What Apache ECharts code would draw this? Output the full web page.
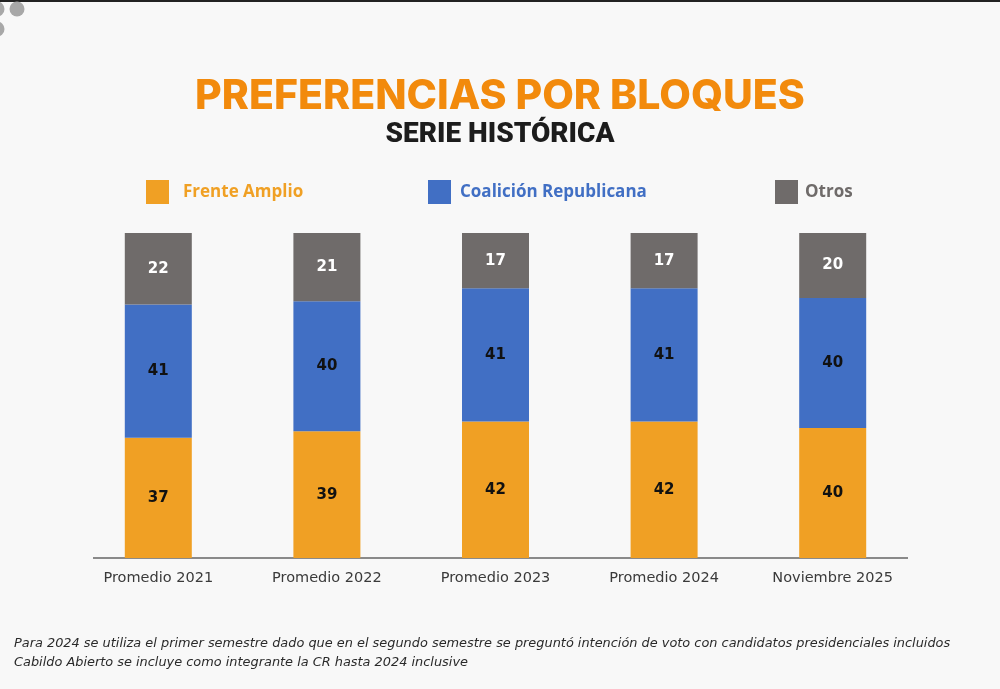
<!DOCTYPE html>
<html>
<head>
<meta charset="utf-8">
<script src="https://cdn.jsdelivr.net/npm/echarts@6/dist/echarts.min.js"></script>
<style>
  html, body { margin: 0; padding: 0; background: #f8f8f8; }
  #chart { width: 1000px; height: 689px; }
</style>
</head>
<body>
<div id="chart"></div>
<script>
var categories = ['Promedio 2021', 'Promedio 2022', 'Promedio 2023', 'Promedio 2024', 'Noviembre 2025'];
var frenteAmplio = [37, 39, 42, 42, 40];
var coalicion = [41, 40, 41, 41, 40];
var otros = [22, 21, 17, 17, 20];

var ORANGE = '#F0A024';
var BLUE = '#416FC4';
var GRAY = '#6F6B6A';

var chart = echarts.init(document.getElementById('chart'));

function legendAt(name, color, left, pad) {
    return {
        data: [{ name: name, textStyle: { color: color } }],
        left: left,
        top: 180,
        padding: 0,
        icon: 'rect',
        itemWidth: 23,
        itemHeight: 24,
        textStyle: {
            fontFamily: 'Open Sans',
            fontWeight: 'bold',
            fontSize: 17,
            padding: [0, 0, 0, pad]
        }
    };
}

function barLabel(color) {
    return {
        show: true,
        position: 'inside',
        color: color,
        fontFamily: 'DejaVu Sans',
        fontWeight: 'bold',
        fontSize: 15
    };
}

var options = {
    backgroundColor: '#f8f8f8',
    animation: false,
    title: [
        {
            text: 'PREFERENCIAS POR BLOQUES',
            left: 'center',
            top: 71,
            textStyle: {
                color: '#F28A0C',
                fontFamily: 'Inter',
                fontWeight: 800,
                fontSize: 41
            }
        },
        {
            text: 'SERIE HISTÓRICA',
            left: 'center',
            top: 116,
            textStyle: {
                color: '#1c1c1c',
                fontFamily: 'Roboto',
                fontWeight: 900,
                fontSize: 28
            }
        }
    ],
    legend: [
        legendAt('Frente Amplio', ORANGE, 146, 9),
        legendAt('Coalición Republicana', BLUE, 428, 4),
        legendAt('Otros', GRAY, 775, 2)
    ],
    grid: {
        left: 74,
        right: 83,
        top: 233,
        bottom: 131
    },
    xAxis: {
        type: 'category',
        data: categories,
        axisLine: { show: false },
        axisTick: { show: false },
        axisLabel: {
            color: '#3a3a3a',
            fontFamily: 'DejaVu Sans',
            fontSize: 14.5,
            margin: 13
        }
    },
    yAxis: {
        type: 'value',
        min: 0,
        max: 100,
        show: false,
        splitLine: { show: false }
    },
    graphic: [
        // axis baseline
        { type: 'line', shape: { x1: 93, y1: 558, x2: 908, y2: 558 }, style: { stroke: '#8a8a8a', lineWidth: 2 } },
        // frame top line and corner dots
        { type: 'line', shape: { x1: 0, y1: 1, x2: 1000, y2: 1 }, style: { stroke: '#222', lineWidth: 2 } },
        { type: 'circle', shape: { cx: 17, cy: 9, r: 7.5 }, style: { fill: '#a8a8a8' } },
        { type: 'circle', shape: { cx: -3, cy: 9, r: 7.5 }, style: { fill: '#a8a8a8' } },
        { type: 'circle', shape: { cx: -3, cy: 29, r: 7.5 }, style: { fill: '#a8a8a8' } },
        {
            type: 'text',
            left: 14,
            top: 634,
            style: {
                text: 'Para 2024 se utiliza el primer semestre dado que en el segundo semestre se preguntó intención de voto con candidatos presidenciales incluidos\nCabildo Abierto se incluye como integrante la CR hasta 2024 inclusive',
                fill: '#2a2a2a',
                font: 'italic 12.9px "DejaVu Sans"',
                lineHeight: 19
            }
        }
    ],
    series: [
        {
            name: 'Frente Amplio',
            type: 'bar',
            stack: 'total',
            barWidth: 67,
            itemStyle: { color: ORANGE },
            label: barLabel('#111'),
            data: frenteAmplio
        },
        {
            name: 'Coalición Republicana',
            type: 'bar',
            stack: 'total',
            barWidth: 67,
            itemStyle: { color: BLUE },
            label: barLabel('#111'),
            data: coalicion
        },
        {
            name: 'Otros',
            type: 'bar',
            stack: 'total',
            barWidth: 67,
            itemStyle: { color: GRAY },
            label: barLabel('#fff'),
            data: otros
        }
    ]
};

chart.setOption(options);
window.addEventListener('resize', function () {
    chart.resize();
});
</script>
</body>
</html>
